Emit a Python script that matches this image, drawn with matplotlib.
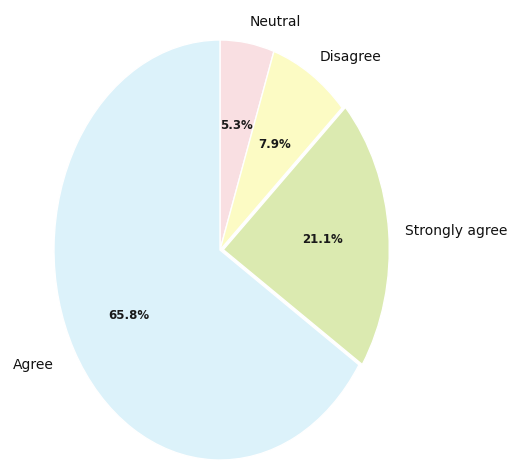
import matplotlib
matplotlib.use("Agg")
import matplotlib.pyplot as plt

categories = ["Neutral", "Disagree", "Strongly agree", "Agree"]
counts = [2, 3, 8, 25]
colors = ["#f9dfe2", "#fcfbc4", "#dbeab0", "#dcf2fa"]
explode = [0, 0, 0.02, 0]

fig = plt.figure(figsize=(5.15, 4.63), dpi=100)
W, H = 515, 463
cx, cy, rx, ry = 220, 250, 166, 210
ax = fig.add_axes([(cx - rx) / W, 1 - (cy + ry) / H, 2 * rx / W, 2 * ry / H])

wedges, texts, autotexts = ax.pie(
    counts, labels=categories, colors=colors, explode=explode,
    startangle=90, counterclock=False, autopct="%1.1f%%",
    pctdistance=0.6, labeldistance=1.1,
    wedgeprops=dict(edgecolor="white", linewidth=1.0),
    textprops=dict(fontsize=10, color="#111111"))
for t in autotexts:
    t.set_fontsize(8.5)
    t.set_fontweight("bold")
    t.set_color("#1a1a1a")
texts[3].set_position((-1.0, -0.55))
texts[3].set_ha("right")
autotexts[3].set_position((-0.55, -0.31))
ax.set_aspect("auto")
ax.set_xlim(-1, 1)
ax.set_ylim(-1, 1)
ax.axis("off")
fig.savefig("out.png", dpi=100)
